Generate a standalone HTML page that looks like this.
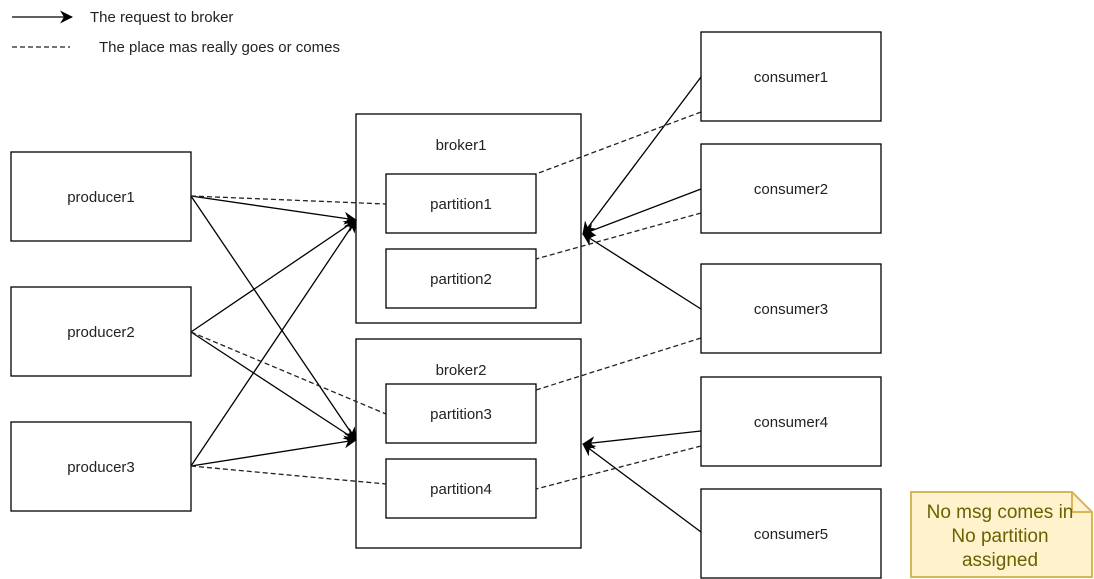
<!DOCTYPE html>
<html><head><style>html,body{margin:0;padding:0;background:#fff}svg{display:block}</style></head>
<body>
<svg width="1094" height="579" xmlns="http://www.w3.org/2000/svg" font-family="Liberation Sans, sans-serif">
<defs>
<marker id="a" markerWidth="13" markerHeight="13" refX="12" refY="6.5" orient="auto" markerUnits="userSpaceOnUse">
<path d="M0,0 L13,6.5 L0,13 L4,6.5 Z" fill="#000"/>
</marker>
</defs>
<g fill="#fff" stroke="#000" stroke-width="1.3">
<rect x="11" y="152" width="180" height="89"/>
<rect x="11" y="287" width="180" height="89"/>
<rect x="11" y="422" width="180" height="89"/>
<rect x="356" y="114" width="225" height="209"/>
<rect x="386" y="174" width="150" height="59"/>
<rect x="386" y="249" width="150" height="59"/>
<rect x="356" y="339" width="225" height="209"/>
<rect x="386" y="384" width="150" height="59"/>
<rect x="386" y="459" width="150" height="59"/>
<rect x="701" y="32" width="180" height="89"/>
<rect x="701" y="144" width="180" height="89"/>
<rect x="701" y="264" width="180" height="89"/>
<rect x="701" y="377" width="180" height="89"/>
<rect x="701" y="489" width="180" height="89"/>
</g>
<g stroke="#000" stroke-width="1.3" fill="none" marker-end="url(#a)">
<line x1="191" y1="196" x2="356" y2="220"/>
<line x1="191" y1="196" x2="356" y2="440"/>
<line x1="191" y1="332" x2="356" y2="220"/>
<line x1="191" y1="332" x2="356" y2="440"/>
<line x1="191" y1="466" x2="356" y2="220"/>
<line x1="191" y1="466" x2="356" y2="440"/>
<line x1="701" y1="77" x2="583" y2="234"/>
<line x1="701" y1="189" x2="583" y2="234"/>
<line x1="701" y1="309" x2="583" y2="234"/>
<line x1="701" y1="431" x2="583" y2="444"/>
<line x1="701" y1="532" x2="583" y2="444"/>
<line x1="12" y1="17" x2="72" y2="17"/>
</g>
<g stroke="#222" stroke-width="1.3" fill="none" stroke-dasharray="5,3">
<line x1="191" y1="196" x2="386" y2="204"/>
<line x1="191" y1="332" x2="386" y2="414"/>
<line x1="191" y1="466" x2="386" y2="484"/>
<line x1="701" y1="112" x2="536" y2="174"/>
<line x1="701" y1="213" x2="536" y2="259"/>
<line x1="701" y1="338" x2="536" y2="390"/>
<line x1="701" y1="446" x2="536" y2="489"/>
<line x1="12" y1="47" x2="70" y2="47"/>
</g>
<g font-size="15" fill="#222" text-anchor="middle">
<text x="101" y="202">producer1</text>
<text x="101" y="337">producer2</text>
<text x="101" y="472">producer3</text>
<text x="461" y="150">broker1</text>
<text x="461" y="209">partition1</text>
<text x="461" y="284">partition2</text>
<text x="461" y="375">broker2</text>
<text x="461" y="419">partition3</text>
<text x="461" y="494">partition4</text>
<text x="791" y="82">consumer1</text>
<text x="791" y="194">consumer2</text>
<text x="791" y="314">consumer3</text>
<text x="791" y="427">consumer4</text>
<text x="791" y="539">consumer5</text>
</g>
<g font-size="15" fill="#222">
<text x="90" y="22">The request to broker</text>
<text x="99" y="52">The place mas really goes or comes</text>
</g>
<path d="M911,492 H1072 L1092,512 V577 H911 Z" fill="#fff2cc" stroke="#d6b656" stroke-width="2"/>
<path d="M1072,492 V512 H1092" fill="none" stroke="#d6b656" stroke-width="2"/>
<g font-size="19" fill="#6b6100" text-anchor="middle">
<text x="1000" y="518">No msg comes in</text>
<text x="1000" y="542">No partition</text>
<text x="1000" y="566">assigned</text>
</g>
</svg>
</body></html>
